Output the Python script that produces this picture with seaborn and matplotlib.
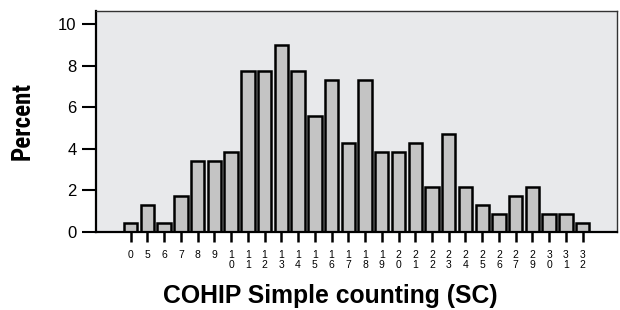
import matplotlib
matplotlib.use("Agg")
import matplotlib.pyplot as plt
import seaborn as sns
import pandas as pd
from matplotlib import font_manager

categories = [0, 5, 6, 7, 8, 9, 10, 11, 12, 13, 14, 15, 16, 17, 18, 19, 20,
              21, 22, 23, 24, 25, 26, 27, 29, 30, 31, 32]
percent = [0.43, 1.29, 0.43, 1.72, 3.43, 3.43, 3.86, 7.73, 7.73, 9.01, 7.73,
           5.58, 7.30, 4.29, 7.30, 3.86, 3.86, 4.29, 2.15, 4.72, 2.15, 1.29,
           0.86, 1.72, 2.15, 0.86, 0.86, 0.43]
y_ticks = [0, 2, 4, 6, 8, 10]

sns.set_theme(style="white")
plt.rcParams.update({
    'font.family': ['Liberation Sans', 'DejaVu Sans'],
    'text.color': 'black',
    'axes.labelcolor': 'black',
    'xtick.color': 'black',
    'ytick.color': 'black',
    'xtick.bottom': True,
    'ytick.left': True,
    'xtick.direction': 'out',
    'ytick.direction': 'out',
    'xtick.major.size': 7,
    'ytick.major.size': 10,
    'xtick.major.width': 1.8,
    'ytick.major.width': 1.5,
    'xtick.major.pad': 6,
    'ytick.major.pad': 4,
})

# find a condensed bold font for the rotated label
fl = font_manager.fontManager.ttflist
narrow_file = None
for pref in ['Liberation Sans Narrow', 'Roboto Condensed', 'DejaVu Sans']:
    for f in fl:
        if f.name == pref and str(f.weight) in ('700', 'bold') and \
                (pref != 'DejaVu Sans' or 'condensed' in str(f.stretch).lower()):
            narrow_file = f.fname
            break
    if narrow_file:
        break

df = pd.DataFrame({"cat": [str(c) for c in categories], "pct": percent})

fig = plt.figure(figsize=(6.2, 3.1), dpi=100)
ax = fig.add_axes([96/620, 1 - 232/310, (617-96)/620, (232-11)/310])
ax.set_facecolor('#e8e9eb')

sns.barplot(data=df, x="cat", y="pct", ax=ax, color='#c4c4c4', saturation=1,
            width=0.8, edgecolor='black', linewidth=1.8)

ax.set_xlim(-2.07, 29.05)
ax.set_ylim(0, 10.62)
ax.set_yticks(y_ticks)
ax.set_yticklabels([str(t) for t in y_ticks], fontsize=12)
ax.set_xticks(range(len(categories)))
ax.set_xticklabels(["\n".join(str(c)) for c in categories], fontsize=7.5,
                   linespacing=0.95, va='top')
ax.tick_params(axis='x', which='major', bottom=True, length=7, width=1.8,
               color='black')
ax.tick_params(axis='y', which='major', left=True, length=10, width=1.5,
               color='black')

for s in ['left', 'bottom']:
    ax.spines[s].set_visible(True)
    ax.spines[s].set_color('black')
    ax.spines[s].set_linewidth(1.6)
for s in ['top', 'right']:
    ax.spines[s].set_visible(True)
    ax.spines[s].set_color('#333333')
    ax.spines[s].set_linewidth(1.0)

ax.set_xlabel("COHIP Simple counting (SC)", fontsize=17.8, fontweight='bold')
ax.xaxis.set_label_coords((330 - 96) / (617 - 96), -(296 - 232) / (232 - 11))
if narrow_file:
    fp = font_manager.FontProperties(fname=narrow_file, size=18)
    ax.set_ylabel("Percent", fontproperties=fp)
else:
    ax.set_ylabel("Percent", fontsize=15, fontweight='bold')
ax.yaxis.set_label_coords(-(96 - 23) / (617 - 96), (232 - 121) / (232 - 11))
ax.yaxis.label.set_va('center')
ax.xaxis.label.set_va('center')

fig.savefig("out.png", dpi=100)
